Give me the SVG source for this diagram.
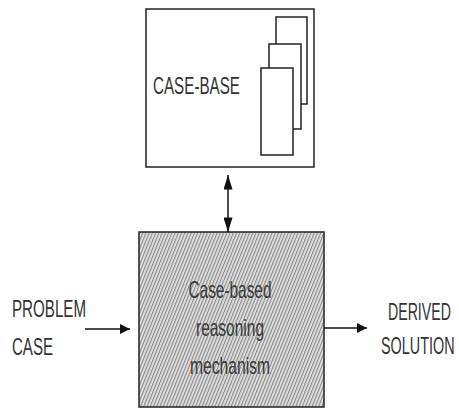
<svg xmlns="http://www.w3.org/2000/svg" width="459" height="410" viewBox="0 0 459 410">
<defs>
<style>
.box{fill:#fff;stroke:#222;stroke-width:1.5}
.lbl{font-family:"Liberation Sans",Arial,sans-serif;fill:#333;font-size:24px}
.mid{font-family:"Liberation Sans",Arial,sans-serif;fill:#3a3a3a;font-size:24px;text-anchor:middle}
.conn{stroke:#111;stroke-width:1.5;fill:none}
</style>
<pattern id="hatch" width="3" height="3" patternUnits="userSpaceOnUse" patternTransform="rotate(22)">
<rect width="3" height="3" fill="#e4e4e4"/>
<rect width="1.2" height="3" fill="#8a8a8a"/>
</pattern>
<marker id="ah" viewBox="0 0 10 10" refX="10" refY="5" markerWidth="10" markerHeight="10" markerUnits="userSpaceOnUse" orient="auto-start-reverse">
<path d="M0,0 L10,5 L0,10 z" fill="#111"/>
</marker>
<marker id="ahv" viewBox="0 0 16 10" refX="16" refY="5" markerWidth="15" markerHeight="9" markerUnits="userSpaceOnUse" orient="auto-start-reverse">
<path d="M0,0 L16,5 L0,10 z" fill="#111"/>
</marker>
</defs>
<rect width="459" height="410" fill="#fff"/>
<g id="case-base">
<rect class="box" x="146" y="9" width="168" height="158"/>
<rect class="box" x="276" y="17" width="31" height="87"/>
<rect class="box" x="269" y="44" width="32" height="85"/>
<rect class="box" x="261" y="68" width="32" height="87"/>
<text class="lbl" x="153" y="94" textLength="87" lengthAdjust="spacingAndGlyphs">CASE-BASE</text>
</g>
<g id="mechanism">
<rect x="139" y="232" width="185" height="175" fill="url(#hatch)" stroke="#222" stroke-width="1.5"/>
<text class="mid" x="230" y="298" textLength="83" lengthAdjust="spacingAndGlyphs">Case-based</text>
<text class="mid" x="230" y="336" textLength="68" lengthAdjust="spacingAndGlyphs">reasoning</text>
<text class="mid" x="230" y="374" textLength="80" lengthAdjust="spacingAndGlyphs">mechanism</text>
</g>
<g id="problem">
<text class="lbl" x="12" y="317" textLength="74" lengthAdjust="spacingAndGlyphs">PROBLEM</text>
<text class="lbl" x="12" y="355" textLength="41" lengthAdjust="spacingAndGlyphs">CASE</text>
</g>
<g id="solution">
<text class="lbl" transform="translate(388,320) scale(0.59,1)">DERIVED</text>
<text class="lbl" transform="translate(381,354) scale(0.6,1)">SOLUTION</text>
</g>
<g id="connectors">
<line class="conn" x1="228" y1="175" x2="228" y2="232" marker-start="url(#ahv)" marker-end="url(#ahv)"/>
<line class="conn" x1="85" y1="329" x2="130" y2="329" marker-end="url(#ah)"/>
<line class="conn" x1="324" y1="328" x2="367" y2="328" marker-end="url(#ah)"/>
</g>
</svg>
